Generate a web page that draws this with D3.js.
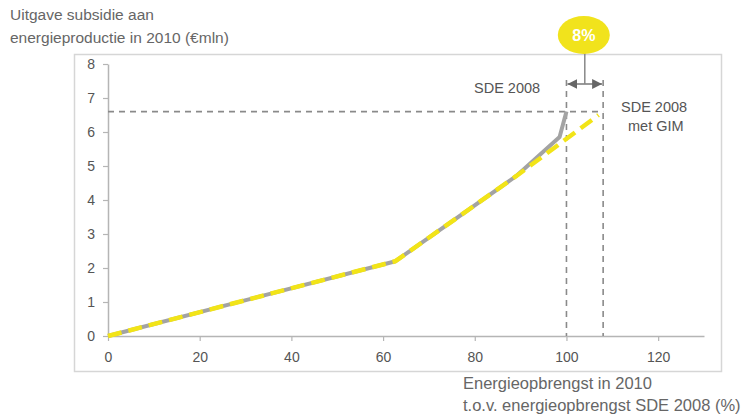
<!DOCTYPE html>
<html><head><meta charset="utf-8">
<script src="https://cdn.jsdelivr.net/npm/d3@7"></script>
<style>body{margin:0;background:#fff}svg{display:block}text{font-family:Arial,"Liberation Sans",sans-serif}</style>
</head><body>
<svg id="c" width="750" height="416"></svg>
<script>
const xTicks = [0, 20, 40, 60, 80, 100, 120];
const yTicks = [0, 1, 2, 3, 4, 5, 6, 7, 8];
const sdeX = [0, 62.7, 89, 98.5, 100];
const sdeY = [0, 2.2, 4.7, 5.85, 6.6];
const gimX = [0, 62.7, 89, 107];
const gimY = [0, 2.2, 4.7, 6.5];
const refLevel = 6.6;
const refXs = [100, 108];
const badge = "8%";
const yTitle = ["Uitgave subsidie aan", "energieproductie in 2010 (€mln)"];
const xTitle = ["Energieopbrengst in 2010", "t.o.v. energieopbrengst SDE 2008 (%)"];
const lblSde = ["SDE 2008"];
const lblGim = ["SDE 2008", "met GIM"];

const svg = d3.select("#c");
const x = d3.scaleLinear().domain([0, 130]).range([108, 704]);
const y = d3.scaleLinear().domain([0, 8]).range([336, 64]);

svg.append("rect").attr("x", 74.5).attr("y", 54.5).attr("width", 647).attr("height", 317)
  .attr("fill", "none").attr("stroke", "#d6d6d6").attr("stroke-width", 1.5);

const ax = svg.append("g").attr("transform", "translate(0,336)")
  .call(d3.axisBottom(x).tickValues(xTicks).tickSize(5).tickPadding(11).tickSizeOuter(0));
const ay = svg.append("g").attr("transform", "translate(108,0)")
  .call(d3.axisLeft(y).tickValues(yTicks).tickSize(5).tickPadding(8).tickSizeOuter(0));
[ax, ay].forEach(g => {
  g.select(".domain").attr("stroke", "#b5b5b5").attr("stroke-width", 1.5);
  g.selectAll(".tick line").attr("stroke", "#b5b5b5").attr("stroke-width", 1.2);
  g.selectAll(".tick text").attr("fill", "#555").attr("font-size", 14).attr("font-family", "Arial, Liberation Sans, sans-serif");
});

// reference dashed lines
svg.append("line").attr("x1", x(0)).attr("x2", x(refXs[1])).attr("y1", y(refLevel)).attr("y2", y(refLevel))
  .attr("stroke", "#8a8a8a").attr("stroke-width", 1.6).attr("stroke-dasharray", "6,5");
refXs.forEach(v => {
  svg.append("line").attr("x1", x(v)).attr("x2", x(v)).attr("y1", 80).attr("y2", y(0))
    .attr("stroke", "#8a8a8a").attr("stroke-width", 1.6).attr("stroke-dasharray", "6,5");
});

const line = d3.line().x(d => x(d[0])).y(d => y(d[1]));
svg.append("path").datum(sdeX.map((v, i) => [v, sdeY[i]])).attr("d", line)
  .attr("fill", "none").attr("stroke", "#a3a3a3").attr("stroke-width", 4).attr("stroke-linejoin", "round");
svg.append("path").datum(gimX.map((v, i) => [v, gimY[i]])).attr("d", line)
  .attr("fill", "none").attr("stroke", "#f2e417").attr("stroke-width", 4.5).attr("stroke-dasharray", "14,7");

// arrow
const defs = svg.append("defs");
defs.append("marker").attr("id", "ah").attr("viewBox", "0 0 10 10").attr("refX", 10).attr("refY", 5)
  .attr("markerWidth", 10).attr("markerHeight", 10).attr("markerUnits", "userSpaceOnUse").attr("orient", "auto-start-reverse")
  .append("path").attr("d", "M0,0L10,5L0,10Z").attr("fill", "#666");
const ay0 = 84;
svg.append("line").attr("x1", x(refXs[0]) + 1).attr("x2", x(refXs[1]) - 1).attr("y1", ay0).attr("y2", ay0)
  .attr("stroke", "#777").attr("stroke-width", 1.5).attr("marker-start", "url(#ah)").attr("marker-end", "url(#ah)");
const cx = (x(refXs[0]) + x(refXs[1])) / 2;
svg.append("line").attr("x1", cx).attr("x2", cx).attr("y1", 52).attr("y2", ay0).attr("stroke", "#888").attr("stroke-width", 1.5);
svg.append("ellipse").attr("cx", cx - 1).attr("cy", 35).attr("rx", 26).attr("ry", 19).attr("fill", "#f1e31c");
svg.append("text").attr("x", cx - 1).attr("y", 41).attr("text-anchor", "middle").attr("fill", "#fff")
  .attr("font-size", 16).attr("font-weight", "bold").text(badge);

// labels
svg.append("text").attr("x", 474).attr("y", 93).attr("fill", "#555").attr("font-size", 14.5).text(lblSde[0]);
const g2 = svg.append("text").attr("fill", "#555").attr("font-size", 14.5);
lblGim.forEach((t, i) => g2.append("tspan").attr("x", i === 0 ? 621 : 628).attr("y", 112 + i * 19).text(t));

const t1 = svg.append("text").attr("fill", "#666").attr("font-size", 15.5);
yTitle.forEach((t, i) => t1.append("tspan").attr("x", 10).attr("y", 20 + i * 23).text(t));
const t2 = svg.append("text").attr("fill", "#666").attr("font-size", 16.5);
xTitle.forEach((t, i) => t2.append("tspan").attr("x", 463).attr("y", 389 + i * 22).text(t));
</script>
</body></html>
